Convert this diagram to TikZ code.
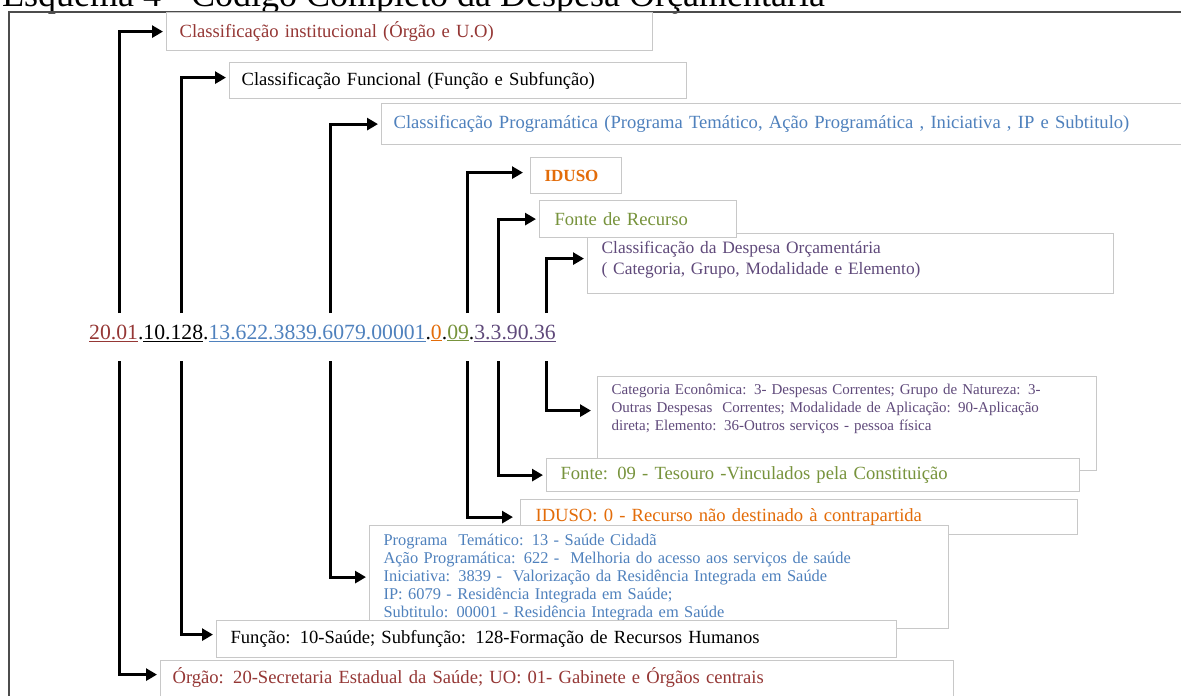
\documentclass[tikz,border=0pt]{standalone}
\usepackage{fontspec}
\setmainfont{Liberation Serif}
\usetikzlibrary{arrows.meta}

\begin{document}
\begin{tikzpicture}[x=1pt, y=-1pt,
    caixa/.style={draw=cinza, line width=1.2pt, fill=white, anchor=north west,
      inner xsep=14pt, inner ysep=0pt, align=left,
      font=\fontsize{18.6}{22}\selectfont},
    miuda/.style={font=\fontsize{15}{18}\selectfont},
    seta/.style={line width=3pt, line join=miter, shorten >=3pt,
      -{Triangle[length=11pt, width=12pt]}},
  ]
  \definecolor{cinza}{RGB}{200,200,200}
  \definecolor{vermelho}{RGB}{149,55,53}
  \definecolor{azul}{RGB}{79,129,189}
  \definecolor{laranja}{RGB}{227,108,9}
  \definecolor{verde}{RGB}{119,147,60}
  \definecolor{roxo}{RGB}{96,74,123}

  \useasboundingbox (0,0) rectangle (1181,696);

  % título (cortado em cima) e moldura
  \node[anchor=base west, inner sep=0pt, font=\fontsize{36}{40}\selectfont]
    (titulo) at (2,6) {Esquema 4 - Código Completo da Despesa Orçamentária};
  \draw[black!70, line width=2pt] (9,710) -- (9,12) -- (1190,12);

  % ---------------- código completo ---------------------------------
  \node[anchor=base west, inner sep=0pt, font=\fontsize{21.7}{24}\selectfont]
    (codigo) at (89,339) {\textcolor{vermelho}{\underline{20.01}}.%
    \underline{10.128}.\textcolor{azul}{\underline{13.622.3839.6079.00001}}.%
    \textcolor{laranja}{\underline{0}}.\textcolor{verde}{\underline{09}}.%
    \textcolor{roxo}{\underline{3.3.90.36}}};
  \foreach \n/\x in {1/119, 2/181, 3/330, 4/467, 5/498, 6/546} {
    \coordinate (cima\n) at (\x,313);
    \coordinate (baixo\n) at (\x,361);
  }

  % ---------------- caixas de cima ----------------------------------
  \node[caixa, text width=460pt, minimum height=38pt, inner xsep=13pt,
    text=vermelho] (inst) at (166,12) {Classificação institucional (Órgão e U.O)};
  \node[caixa, text width=433pt, minimum height=36pt, inner xsep=12pt]
    (func) at (229,62) {Classificação Funcional (Função e Subfunção)};
  \node[caixa, text width=792pt, minimum height=41pt, inner xsep=12pt,
    text=azul] (prog) at (381,103) {Classificação Programática (Programa
    Temático, Ação Programática , Iniciativa , IP e Subtitulo)};
  \node[caixa, text width=63pt, minimum height=36pt, text=laranja,
    font=\fontsize{17}{21}\selectfont\bfseries]
    (iduso) at (530,157) {IDUSO};
  \node[caixa, text width=498pt, minimum height=60pt, inner xsep=14pt,
    text=roxo, font=\fontsize{17.4}{21}\selectfont] (desp) at (587,233)
    {Classificação da Despesa Orçamentária\\
    ( Categoria, Grupo, Modalidade e Elemento)\rule[-11pt]{0pt}{11pt}};
  \node[caixa, text width=167pt, minimum height=37pt, inner xsep=15pt,
    text=verde] (fonte) at (539,200) {Fonte de Recurso};

  % ---------------- caixas de baixo ---------------------------------
  \node[caixa, miuda, text width=471pt, minimum height=94pt, text=roxo]
    (cat) at (597,376) {Categoria Econômica: 3- Despesas Correntes; Grupo de
    Natureza: 3-\\Outras Despesas~ Correntes; Modalidade de Aplicação:
    90-Aplicação\\direta; Elemento: 36-Outros serviços - pessoa física%
    \rule[-33pt]{0pt}{33pt}};
  \node[caixa, text width=505pt, minimum height=33pt, text=verde]
    (fontev) at (546,458) {Fonte: 09 - Tesouro -Vinculados pela Constituição};
  \node[caixa, text width=527pt, minimum height=35pt, inner xsep=15pt,
    text=laranja] (idusov) at (520,499)
    {IDUSO: 0 - Recurso não destinado à contrapartida};
  \node[caixa, text width=551pt, minimum height=103pt, text=azul,
    font=\fontsize{16.4}{18}\selectfont] (progv) at (369,525)
    {Programa~ Temático: 13 - Saúde Cidadã\\
    Ação Programática: 622 - ~Melhoria do acesso aos serviços de saúde\\
    Iniciativa: 3839 - ~Valorização da Residência Integrada em Saúde\\
    IP: 6079 - Residência Integrada em Saúde;\\
    Subtitulo: 00001 - Residência Integrada em Saúde};
  \node[caixa, text width=652pt, minimum height=37pt, inner xsep=14pt]
    (funcv) at (216,620)
    {Função: 10-Saúde; Subfunção: 128-Formação de Recursos Humanos};
  \node[caixa, text width=769pt, minimum height=60pt, inner xsep=12pt,
    text=vermelho] (orgao) at (160,660) {Órgão: 20-Secretaria Estadual da
    Saúde; UO: 01- Gabinete e Órgãos centrais\rule[-30pt]{0pt}{30pt}};

  % ---------------- setas -------------------------------------------
  \draw[seta] (cima1) |- (inst.west);
  \draw[seta] (cima2) |- ([yshift=3pt]func.west);
  \draw[seta] (cima3) |- (prog.west);
  \draw[seta, shorten >=7pt] (cima4) |- ([yshift=3pt]iduso.west);
  \draw[seta] (cima5) |- (fonte.west);
  \draw[seta] (cima6) |- ([yshift=5pt]desp.west);
  \draw[seta] (baixo1) |- ([yshift=16pt]orgao.west);
  \draw[seta] (baixo2) |- ([yshift=4.5pt]funcv.west);
  \draw[seta] (baixo3) |- (progv.west);
  \draw[seta, shorten >=7pt] (baixo4) |- (idusov.west);
  \draw[seta] (baixo5) |- (fontev.west);
  \draw[seta, shorten >=6pt] (baixo6) |- ([yshift=13pt]cat.west);
\end{tikzpicture}
\end{document}
